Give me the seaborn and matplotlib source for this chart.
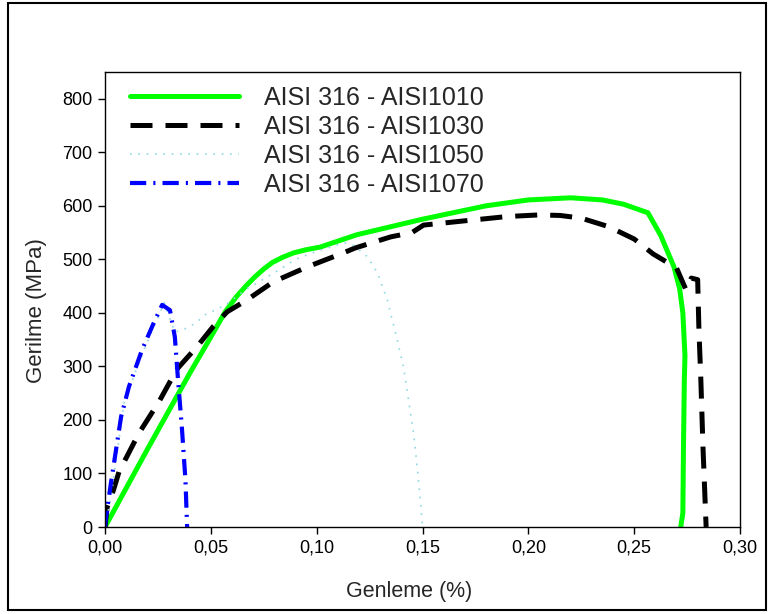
import matplotlib
matplotlib.use("Agg")
import matplotlib.pyplot as plt
from matplotlib.patches import Rectangle
from matplotlib.ticker import FuncFormatter
import seaborn as sns

# ---- data (strain, stress) ----
labels = ["AISI 316 - AISI1010", "AISI 316 - AISI1030",
          "AISI 316 - AISI1050", "AISI 316 - AISI1070"]

x1010 = [0.0, 0.02, 0.04, 0.05, 0.0568, 0.062, 0.067, 0.071, 0.075, 0.079,
         0.084, 0.089, 0.095, 0.1017, 0.119, 0.15, 0.18, 0.20, 0.22, 0.235,
         0.245, 0.2565, 0.2625, 0.2688, 0.2715, 0.273, 0.274, 0.2737, 0.2733,
         0.273, 0.272]
y1010 = [0, 145, 287, 355, 402, 430, 452, 468, 482, 494,
         504, 512, 518, 523, 546, 575, 600, 611, 615, 611,
         603, 587, 545, 486, 445, 400, 320, 275, 150,
         26, 0]

x1030 = [0.0, 0.001, 0.004, 0.0066, 0.016, 0.0255, 0.034, 0.0435, 0.051, 0.0577,
         0.067, 0.0795, 0.0956, 0.1126, 0.118, 0.135, 0.145, 0.1505, 0.17, 0.19,
         0.205, 0.215, 0.225, 0.238, 0.25, 0.259, 0.270, 0.2745, 0.277, 0.280,
         0.2806, 0.2815, 0.2825, 0.284]
y1030 = [0, 37, 69, 103, 175, 234, 295, 337, 374, 402,
         424, 458, 486, 512, 521, 542, 550, 564, 572, 580,
         583, 582, 577, 561, 538, 510, 484, 443, 465, 462,
         368, 275, 150, 0]

x1050 = [0.0, 0.003, 0.009, 0.0147, 0.021, 0.028, 0.033, 0.039, 0.0435, 0.047,
         0.052, 0.057, 0.067, 0.08, 0.09, 0.10, 0.113, 0.117, 0.119, 0.124,
         0.1287, 0.1334, 0.138, 0.141, 0.1434, 0.1458, 0.1475, 0.149, 0.15]
y1050 = [0, 60, 232, 293, 355, 419, 364, 372, 383, 396,
         405, 415, 445, 475, 500, 515, 531, 527, 521, 505,
         475, 424, 350, 300, 237, 175, 112, 50, 0]

x1070 = [0.0, 0.0005, 0.0028, 0.0052, 0.0076, 0.0113, 0.0175, 0.023, 0.027, 0.0307,
         0.033, 0.0345, 0.0364, 0.038, 0.0388]
y1070 = [0, 19, 82, 144, 206, 262, 331, 381, 415, 405,
         355, 275, 181, 88, 0]

xticks = [0.0, 0.05, 0.10, 0.15, 0.20, 0.25, 0.30]
yticks = [0, 100, 200, 300, 400, 500, 600, 700, 800]

# ---- style ----
sns.set_style("ticks")
plt.rcParams["font.family"] = ["Liberation Sans", "DejaVu Sans"]

fig = plt.figure(figsize=(7.69, 6.14), dpi=100)
ax = fig.add_axes([105 / 769, 87 / 614, 635 / 769, 455 / 614])

sns.lineplot(x=x1010, y=y1010, sort=False, estimator=None, ax=ax,
             color="#00ff00", linewidth=3.6, label=labels[0])
sns.lineplot(x=x1030, y=y1030, sort=False, estimator=None, ax=ax,
             color="black", linewidth=3.6, linestyle=(0, (4.4, 2.6)),
             label=labels[1])
sns.lineplot(x=x1050, y=y1050, sort=False, estimator=None, ax=ax,
             color="#8fd8e2", linewidth=1.2, linestyle=(0, (1, 4)),
             label=labels[2])
sns.lineplot(x=x1070, y=y1070, sort=False, estimator=None, ax=ax,
             color="#0000ff", linewidth=3.0,
             linestyle=(0, (3.9, 1.7, 0.5, 1.7)), label=labels[3])

ax.set_xlim(0, 0.30)
ax.set_ylim(0, 850)
ax.set_xticks(xticks)
ax.set_yticks(yticks)
ax.xaxis.set_major_formatter(FuncFormatter(lambda v, p: f"{v:.2f}".replace(".", ",")))
ax.tick_params(axis="both", direction="out", length=5, width=1, labelsize=13,
               colors="black", pad=4)
for s in ax.spines.values():
    s.set_linewidth(1.0)
    s.set_color("black")

ax.set_xlabel("Genleme (%)", fontsize=15.5)
ax.set_ylabel("Gerilme (MPa)", fontsize=16)
ax.xaxis.set_label_coords(0.479, -0.118)
ax.yaxis.set_label_coords(-0.091, 0.475)

leg = ax.legend(loc="upper left", bbox_to_anchor=(0.039, 0.969), frameon=False,
                fontsize=18, handlelength=4.35, handletextpad=1.0,
                labelspacing=0.2, borderaxespad=0, borderpad=0)

fig.add_artist(Rectangle((8 / 769, 4 / 614), 758 / 769, 607 / 614,
                         transform=fig.transFigure, fill=False,
                         edgecolor="black", linewidth=1.5))

fig.savefig("out.png", dpi=100)
